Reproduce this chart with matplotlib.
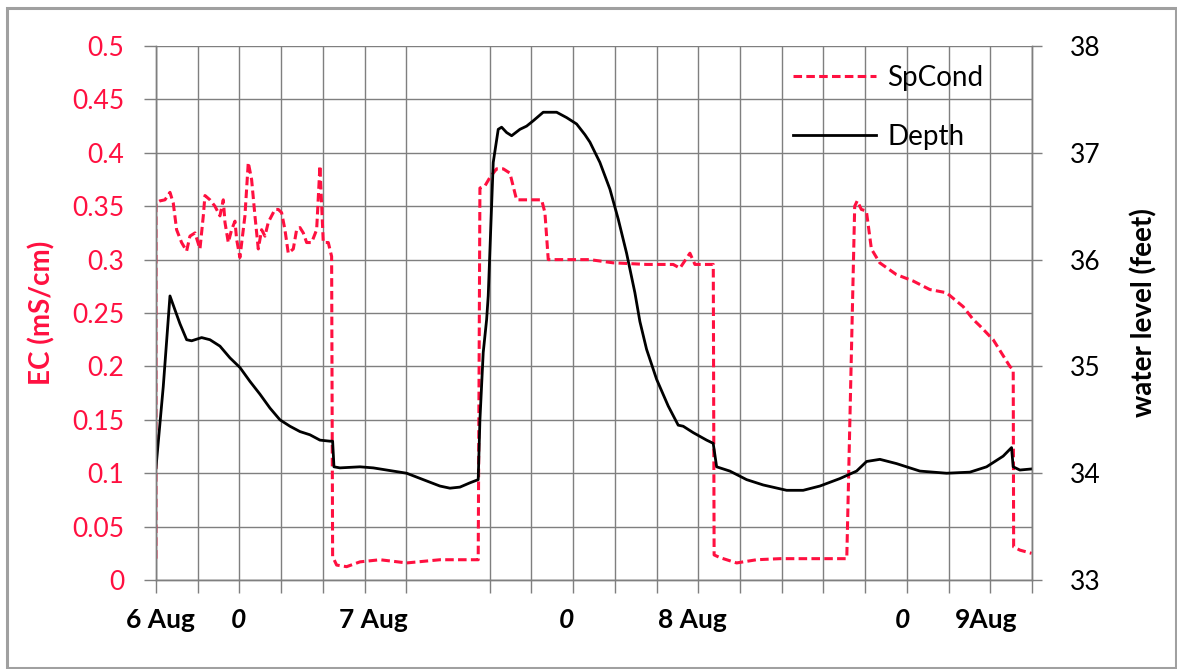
import matplotlib
matplotlib.use("Agg")
import matplotlib.pyplot as plt
from matplotlib.patches import Rectangle

plt.rcParams['font.family'] = ['Lato', 'DejaVu Sans']

# time in grid intervals from the start of 6 Aug
sp_t = [0.0, 0.0, 0.096, 0.216, 0.336, 0.415, 0.495, 0.615, 0.735, 0.815, 0.935,
        1.055, 1.135, 1.175, 1.294, 1.414, 1.534, 1.614, 1.654, 1.734, 1.814,
        1.894, 1.934, 2.013, 2.133, 2.213, 2.293, 2.373, 2.453, 2.533, 2.613,
        2.693, 2.773, 2.853, 2.933, 3.012, 3.092, 3.172, 3.292, 3.372, 3.452,
        3.532, 3.612, 3.732, 3.852, 3.931, 4.011, 4.131, 4.211, 4.235, 4.331,
        4.571, 4.890, 5.370, 6.010, 6.810, 7.725, 7.766, 7.886, 8.006, 8.166,
        8.325, 8.485, 8.645, 8.885, 9.245, 9.324, 9.404, 10.40, 10.96, 11.76,
        12.40, 12.56, 12.80, 12.92, 13.36, 13.38, 13.52, 13.92, 14.40, 14.96,
        16.56, 16.75, 16.81, 16.91, 17.03, 17.15, 17.35, 17.75, 18.15, 18.55,
        18.95, 19.35, 19.59, 19.75, 20.07, 20.47, 20.55, 20.56, 20.71, 20.99]
sp_ec = [0.020, 0.353, 0.355, 0.356, 0.363, 0.353, 0.328, 0.316, 0.308, 0.322, 0.325,
         0.310, 0.341, 0.360, 0.356, 0.350, 0.341, 0.356, 0.335, 0.316, 0.328,
         0.336, 0.319, 0.302, 0.341, 0.391, 0.375, 0.341, 0.310, 0.328, 0.322,
         0.335, 0.341, 0.347, 0.347, 0.344, 0.328, 0.306, 0.310, 0.328, 0.330,
         0.325, 0.316, 0.316, 0.328, 0.388, 0.316, 0.316, 0.303, 0.022, 0.014,
         0.0125, 0.017, 0.019, 0.016, 0.019, 0.019, 0.367, 0.369, 0.377, 0.385,
         0.385, 0.381, 0.356, 0.356, 0.356, 0.344, 0.300, 0.300, 0.297, 0.2955,
         0.2955, 0.292, 0.306, 0.2955, 0.2955, 0.0235, 0.021, 0.016, 0.019, 0.020,
         0.020, 0.350, 0.355, 0.347, 0.3455, 0.310, 0.297, 0.286, 0.280, 0.272,
         0.269, 0.256, 0.244, 0.238, 0.225, 0.200, 0.197, 0.031, 0.028, 0.025]

dep_t = [0.0, 0.175, 0.336, 0.455, 0.575, 0.736, 0.856, 1.095, 1.294, 1.534, 1.774,
         2.013, 2.253, 2.493, 2.733, 2.972, 3.212, 3.452, 3.691, 3.931, 4.171,
         4.235, 4.267, 4.410, 4.890, 5.209, 5.688, 6.009, 6.407, 6.807, 7.047,
         7.287, 7.526, 7.725, 7.766, 7.845, 7.927, 7.965, 8.085, 8.205, 8.286,
         8.406, 8.526, 8.725, 8.885, 9.044, 9.283, 9.605, 9.844, 10.084, 10.283,
         10.403, 10.642, 10.882, 11.081, 11.282, 11.481, 11.601, 11.761, 12.001,
         12.279, 12.519, 12.639, 12.879, 13.200, 13.358, 13.440, 13.758, 14.159,
         14.557, 15.118, 15.515, 15.916, 16.395, 16.795, 17.035, 17.354, 17.754,
         18.073, 18.313, 18.953, 19.511, 19.911, 20.309, 20.510, 20.549, 20.709,
         20.990]
dep_ft = [34.05, 34.81, 35.66, 35.53, 35.40, 35.25, 35.24, 35.27, 35.25, 35.19, 35.08,
          34.99, 34.86, 34.74, 34.61, 34.50, 34.44, 34.39, 34.36, 34.31, 34.30,
          34.30, 34.06, 34.05, 34.06, 34.05, 34.02, 34.00, 33.94, 33.88, 33.86,
          33.87, 33.91, 33.94, 34.50, 35.13, 35.44, 35.66, 36.91, 37.22, 37.24,
          37.19, 37.16, 37.22, 37.25, 37.30, 37.38, 37.38, 37.33, 37.27, 37.17,
          37.10, 36.91, 36.66, 36.38, 36.06, 35.69, 35.42, 35.16, 34.88,
          34.63, 34.45, 34.44, 34.38, 34.31, 34.28, 34.06, 34.02, 33.94,
          33.89, 33.84, 33.84, 33.88, 33.95, 34.02, 34.11, 34.13, 34.09,
          34.05, 34.02, 34.00, 34.01, 34.06, 34.16, 34.24, 34.06, 34.03,
          34.04]

grid_x = [i for i in range(22) if i != 7]
label_pos = [0.1, 1.97, 5.2, 9.85, 12.85, 17.9, 19.9]
label_txt = ['6 Aug', '0', '7 Aug', '0', '8 Aug', '0', '9Aug']
ec_ticks = [i * 0.05 for i in range(11)]
ec_labels = ['0', '0.05', '0.1', '0.15', '0.2', '0.25', '0.3', '0.35', '0.4', '0.45', '0.5']

red = '#ff1040'
gridc = '#7f7f7f'

fig = plt.figure(figsize=(11.77, 6.69), dpi=100)
fig.patches.append(Rectangle((0.006, 0.002), 0.993, 0.986, transform=fig.transFigure,
                             fill=False, edgecolor='#a0a0a0', linewidth=2.2))
ax = fig.add_axes([0.1325, 0.1330, 0.7443, 0.7982])
ax2 = ax.twinx()

ax.set_xlim(0, 21)
ax.set_ylim(0, 0.5)
ax2.set_ylim(33, 38)

ax.xaxis.remove_overlapping_locs = False
ax.set_xticks(grid_x)
ax.set_xticklabels([])
ax.set_xticks(label_pos, minor=True)
ax.set_xticklabels(label_txt, minor=True)
ax.tick_params(axis='x', which='major', length=9, width=1, color=gridc)
ax.tick_params(axis='x', which='minor', length=0, pad=20, labelsize=19)
for lab in ax.get_xticklabels(minor=True):
    lab.set_fontweight('bold')
    if lab.get_text() == '0':
        lab.set_fontstyle('italic')

ax.set_yticks(ec_ticks)
ax.set_yticklabels(ec_labels)
ax.tick_params(axis='y', length=9, width=1, color=gridc, labelcolor=red, labelsize=19, pad=14)

ax2.set_yticks(range(33, 39))
ax2.set_yticks([33.5, 34.5, 35.5, 36.5, 37.5], minor=True)
ax2.tick_params(axis='y', which='major', length=7, width=1, color=gridc, labelsize=19, pad=20)
ax2.tick_params(axis='y', which='minor', length=0)

ax.grid(True, which='major', color=gridc, linewidth=1)
ax.set_axisbelow(True)
for a in (ax, ax2):
    for s in a.spines.values():
        s.set_color(gridc)
        s.set_linewidth(1)
    a.spines['top'].set_visible(False)

ax.set_ylabel('EC (mS/cm)', color=red, fontsize=20, fontweight='bold', labelpad=12)
ax2.set_ylabel('water level (feet)', fontsize=20, fontweight='bold', labelpad=22)

l1, = ax.plot(sp_t, sp_ec, color=red, linewidth=2.2, dashes=(2.8, 1.4), label='SpCond')
l2, = ax2.plot(dep_t, dep_ft, color='black', linewidth=2.0, label='Depth')

ax2.legend(handles=[l1, l2], loc='upper left', bbox_to_anchor=(0.727, 0.965),
           frameon=False, fontsize=20, handlelength=3.0, handletextpad=0.4,
           labelspacing=1.2, borderpad=0, borderaxespad=0)

fig.savefig('out.png', dpi=100)
